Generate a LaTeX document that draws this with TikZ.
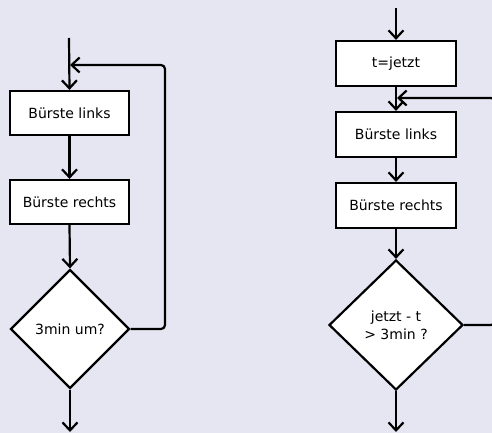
\documentclass[tikz,border=0pt]{standalone}
\usepackage{fontspec}
\setmainfont{DejaVu Sans}
\usetikzlibrary{shapes.geometric,arrows.meta}
\definecolor{bgc}{RGB}{230,230,242}
\begin{document}
\begin{tikzpicture}[x=1pt,y=-1pt,
  every node/.style={font=\fontsize{14}{18}\selectfont},
  procbox/.style={draw=black,fill=white,line width=2.2pt,minimum width=119pt,minimum height=44pt,inner sep=0pt},
  decbox/.style={draw=black,fill=white,line width=2.2pt,diamond,inner sep=0pt,align=center},
  flow/.style={line width=2.2pt,-{Straight Barb[length=8pt,width=15pt,line width=2.2pt]}},
  loopline/.style={line width=2.2pt,rounded corners=4pt,-{Straight Barb[length=8pt,width=15pt,line width=2.2pt]}}]
\fill[bgc] (0,0) rectangle (492,433);
\useasboundingbox (0,0) rectangle (492,433);
\clip (0,0) rectangle (492,433);
% left chart
\node[procbox] (L1) at (69.5,113) {Bürste links};
\node[procbox] (L2) at (69.5,202) {Bürste rechts};
\node[decbox,minimum width=119pt,minimum height=119pt] (LD) at (70,329) {3min um?};
\coordinate (Ls) at (69,38);
\coordinate (Le) at (70,432);
\coordinate (Lc1) at (165,329);
\coordinate (Lc2) at (165,65);
\coordinate (Lt) at (70,65);
\draw[flow] (Ls) -- (L1.north);
\draw[flow] (L1.south) -- (L2.north);
\draw[flow] (L2.south) -- (LD.north);
\draw[flow] (LD.south) -- (Le);
\draw[loopline] (LD.east) -- (Lc1) -- (Lc2) -- (Lt);
% right chart
\node[procbox,minimum width=120pt,minimum height=45pt] (R0) at (396,63.5) {t=jetzt};
\node[procbox,minimum width=120pt,minimum height=45pt] (R1) at (396,134.5) {Bürste links};
\node[procbox,minimum width=120pt,minimum height=45pt] (R2) at (396,205.5) {Bürste rechts};
\node[decbox,minimum width=134pt,minimum height=130pt] (RD) at (396,325) {jetzt - t\\{>} 3min ?};
\coordinate (Rs) at (396,8);
\coordinate (Re) at (396,432);
\coordinate (Rc1) at (495,325);
\coordinate (Rc2) at (495,98);
\coordinate (Rt) at (397,98);
\draw[flow] (Rs) -- (R0.north);
\draw[flow] (R0.south) -- (R1.north);
\draw[flow] (R1.south) -- (R2.north);
\draw[flow] (R2.south) -- (RD.north);
\draw[flow] (RD.south) -- (Re);
\draw[loopline] (RD.east) -- (Rc1) -- (Rc2) -- (Rt);
\end{tikzpicture}
\end{document}
